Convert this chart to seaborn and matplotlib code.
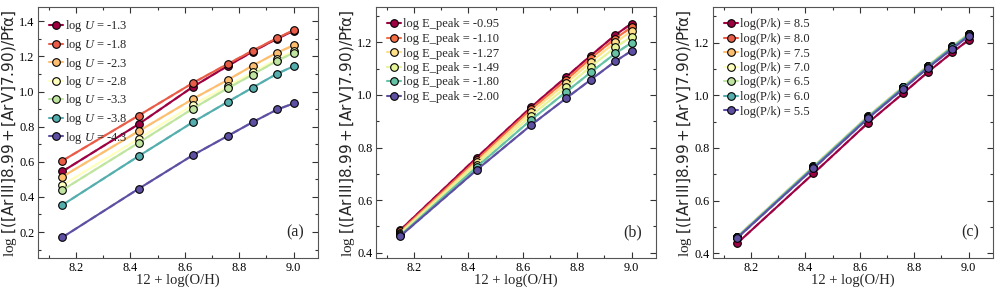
import numpy as np
import pandas as pd
import matplotlib
matplotlib.use("Agg")
import matplotlib.pyplot as plt
import matplotlib.colors as mcolors
import seaborn as sns
from matplotlib.ticker import MultipleLocator

sns.set_theme(style="white")
plt.rcParams['font.family'] = ['Liberation Serif', 'DejaVu Serif']
plt.rcParams['mathtext.fontset'] = 'custom'
plt.rcParams['mathtext.rm'] = 'DejaVu Sans'
plt.rcParams['mathtext.it'] = 'Liberation Serif:italic'

oh = [8.15, 8.43, 8.63, 8.76, 8.85, 8.94, 9.00]

# Panel (a): ionization parameter
logU_labels = ["-1.3", "-1.8", "-2.3", "-2.8", "-3.3", "-3.8", "-4.3"]
a_vals = [
    [0.545, 0.814, 1.027, 1.148, 1.228, 1.302, 1.345],
    [0.606, 0.863, 1.049, 1.159, 1.233, 1.305, 1.349],
    [0.515, 0.774, 0.958, 1.068, 1.148, 1.222, 1.263],
    [0.467, 0.731, 0.924, 1.034, 1.110, 1.186, 1.229],
    [0.439, 0.708, 0.903, 1.021, 1.097, 1.176, 1.220],
    [0.354, 0.632, 0.826, 0.943, 1.023, 1.102, 1.144],
    [0.170, 0.446, 0.638, 0.749, 0.826, 0.898, 0.932],
]

# Panel (b): E_peak
epk_labels = ["-0.95", "-1.10", "-1.27", "-1.49", "-1.80", "-2.00"]
b_vals = [
    [0.486, 0.761, 0.953, 1.069, 1.150, 1.228, 1.272],
    [0.481, 0.752, 0.945, 1.058, 1.140, 1.215, 1.258],
    [0.476, 0.744, 0.935, 1.045, 1.126, 1.200, 1.243],
    [0.471, 0.735, 0.921, 1.030, 1.108, 1.181, 1.222],
    [0.466, 0.725, 0.905, 1.012, 1.086, 1.158, 1.199],
    [0.463, 0.714, 0.885, 0.988, 1.058, 1.128, 1.168],
]

# Panel (c): pressure
pk_labels = ["8.5", "8.0", "7.5", "7.0", "6.5", "6.0", "5.5"]
c_vals = [
    [0.438, 0.703, 0.895, 1.008, 1.088, 1.163, 1.210],
    [0.462, 0.729, 0.919, 1.032, 1.111, 1.185, 1.232],
    [0.463, 0.730, 0.920, 1.033, 1.112, 1.186, 1.233],
    [0.463, 0.730, 0.920, 1.033, 1.112, 1.186, 1.233],
    [0.462, 0.729, 0.919, 1.032, 1.111, 1.185, 1.232],
    [0.461, 0.727, 0.917, 1.030, 1.109, 1.183, 1.230],
    [0.458, 0.722, 0.912, 1.025, 1.104, 1.177, 1.225],
]

def long_df(labels, vals, prefix):
    rows = []
    for lab, ys in zip(labels, vals):
        for x, y in zip(oh, ys):
            rows.append({"x": x, "y": y, "s": prefix + lab})
    return pd.DataFrame(rows)

panels = [
    (long_df(logU_labels, a_vals, r"log $U$ = "), "(a)", (0.05, 1.48), 7),
    (long_df(epk_labels, b_vals, "log E_peak = "), "(b)", (0.378, 1.334), 6),
    (long_df(pk_labels, c_vals, "log(P/k) = "), "(c)", (0.38, 1.335), 7),
]

fig = plt.figure(figsize=(9.97, 2.90), dpi=100)
lefts = [0.038, 0.377, 0.715]
ylabel = r"log $[([\mathrm{Ar\,III}]8.99 + [\mathrm{Ar\,V}]7.90)/\mathrm{Pf\alpha}]$"

for (df, tag, ylim, n), left in zip(panels, lefts):
    ax = fig.add_axes([left, 0.109, 0.281, 0.866])
    cols = [mcolors.to_hex(c) for c in plt.cm.Spectral(np.linspace(0, 1, n))]
    order = list(dict.fromkeys(df["s"]))
    # dashed lighter companion lines
    for s, c in zip(order, cols):
        sub = df[df["s"] == s]
        rgb = np.array(mcolors.to_rgb(c))
        light = tuple(rgb + (1 - rgb) * 0.35)
        ax.plot(sub["x"], sub["y"], ls=(0, (3, 2)), color=light, lw=1.6, zorder=1)
    sns.lineplot(data=df, x="x", y="y", hue="s", hue_order=order, palette=cols,
                 marker="o", markersize=5.5, markeredgecolor="black", markeredgewidth=0.8,
                 linewidth=1.5, ax=ax, legend=True, sort=True, estimator=None)
    ax.set_xlim(8.06, 9.09)
    ax.set_ylim(*ylim)
    ax.xaxis.set_major_locator(MultipleLocator(0.2))
    ax.xaxis.set_minor_locator(MultipleLocator(0.1))
    ax.yaxis.set_major_locator(MultipleLocator(0.2))
    ax.yaxis.set_minor_locator(MultipleLocator(0.1))
    ax.tick_params(which="both", direction="in", top=True, right=True, bottom=True, left=True,
                   colors="#333333", labelcolor="black", labelsize=8.8, pad=2.5)
    ax.tick_params(which="major", length=4, width=0.8)
    ax.tick_params(which="minor", length=2, width=0.8)
    for sp in ax.spines.values():
        sp.set_color("#555555")
        sp.set_linewidth(0.8)
    ax.set_xlabel("12 + log(O/H)", fontsize=10.5, labelpad=0)
    ax.set_ylabel(ylabel, fontsize=11)
    ax.yaxis.set_label_coords(-0.068, 0.5)
    ax.text(0.95, 0.07, tag, transform=ax.transAxes, ha="right", va="bottom", fontsize=11.5)
    leg = ax.legend(loc="upper left", frameon=False, fontsize=9, handlelength=1.1,
                    handletextpad=0.2, labelspacing=0.2, borderaxespad=0.5)

fig.savefig("out.png", dpi=100)
